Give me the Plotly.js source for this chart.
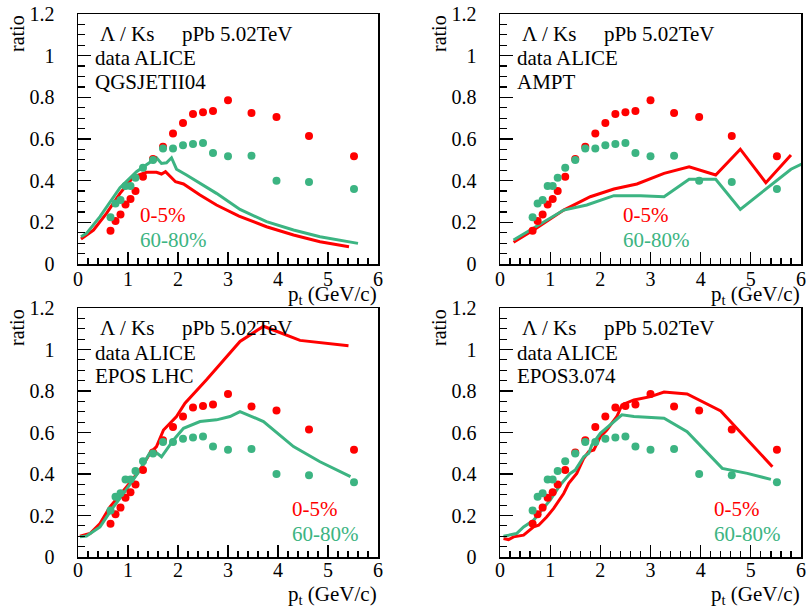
<!DOCTYPE html>
<html>
<head>
<meta charset="utf-8">
<script src="https://cdn.plot.ly/plotly-3.0.1.min.js"></script>
<style>
  html, body { margin: 0; padding: 0; background: #ffffff; }
  #plot { width: 808px; height: 608px; }
</style>
</head>
<body>
<div id="plot"></div>
<script>
// ALICE Lambda/K0s ratio, p-Pb 5.02 TeV (same data in every panel)
const ptData = [0.65, 0.75, 0.85, 0.95, 1.05, 1.15, 1.3, 1.5, 1.7, 1.9, 2.1, 2.3, 2.5, 2.7, 3.0, 3.47, 3.97, 4.62, 5.52];
const dataCentral = [0.160, 0.206, 0.238, 0.286, 0.312, 0.350, 0.419, 0.504, 0.563, 0.627, 0.677, 0.720, 0.728, 0.735, 0.786, 0.725, 0.706, 0.615, 0.517];
const dataPeripheral = [0.224, 0.290, 0.307, 0.374, 0.374, 0.414, 0.462, 0.499, 0.554, 0.554, 0.570, 0.576, 0.581, 0.533, 0.517, 0.520, 0.400, 0.394, 0.360];

// QGSJETII04
const qgsCentralPt = [0.06, 0.31, 0.57, 0.84, 1.11, 1.37, 1.57, 1.67, 1.75, 1.95, 2.11, 2.44, 2.77, 3.22, 3.77, 4.31, 4.84, 5.42];
const qgsCentral = [0.120, 0.163, 0.243, 0.339, 0.419, 0.440, 0.440, 0.432, 0.443, 0.395, 0.384, 0.331, 0.283, 0.230, 0.179, 0.139, 0.107, 0.083];
const qgsPeripheralPt = [0.06, 0.17, 0.44, 0.84, 1.17, 1.51, 1.57, 1.67, 1.77, 1.87, 1.97, 2.17, 2.44, 2.77, 3.24, 3.77, 4.31, 4.84, 5.6];
const qgsPeripheral = [0.131, 0.147, 0.227, 0.366, 0.443, 0.503, 0.510, 0.483, 0.486, 0.510, 0.455, 0.427, 0.387, 0.339, 0.262, 0.203, 0.163, 0.131, 0.099];

// AMPT
const amptCentralPt = [0.27, 0.67, 1.27, 1.8, 2.27, 2.73, 3.27, 3.77, 4.3, 4.79, 5.3, 5.8];
const amptCentral = [0.104, 0.163, 0.259, 0.323, 0.360, 0.384, 0.435, 0.467, 0.427, 0.551, 0.390, 0.523];
const amptPeripheralPt = [0.27, 0.67, 1.27, 1.73, 2.27, 2.8, 3.27, 3.77, 4.3, 4.79, 5.3, 5.8, 6.1];
const amptPeripheral = [0.115, 0.171, 0.259, 0.283, 0.328, 0.328, 0.323, 0.407, 0.407, 0.262, 0.358, 0.455, 0.490];

// EPOS LHC
const eposLhcCentralPt = [0.04, 0.24, 0.44, 0.64, 0.97, 1.24, 1.44, 1.57, 1.71, 1.84, 1.97, 2.14, 2.57, 3.24, 3.71, 3.97, 4.44, 5.41];
const eposLhcCentral = [0.100, 0.113, 0.161, 0.242, 0.338, 0.419, 0.500, 0.532, 0.612, 0.645, 0.677, 0.741, 0.854, 1.039, 1.112, 1.088, 1.044, 1.018];
const eposLhcPeripheralPt = [0.04, 0.17, 0.44, 0.71, 0.91, 1.11, 1.24, 1.44, 1.54, 1.67, 1.77, 1.91, 2.11, 2.44, 2.77, 3.04, 3.24, 3.71, 4.31, 4.84, 5.45];
const eposLhcPeripheral = [0.097, 0.101, 0.145, 0.242, 0.306, 0.371, 0.419, 0.503, 0.508, 0.483, 0.516, 0.564, 0.620, 0.653, 0.661, 0.677, 0.701, 0.653, 0.532, 0.459, 0.387];

// EPOS3.074
const epos3CentralPt = [0.07, 0.17, 0.27, 0.47, 0.67, 0.77, 0.93, 1.07, 1.27, 1.37, 1.53, 1.67, 1.77, 1.87, 2.0, 2.13, 2.33, 2.43, 2.67, 3.0, 3.27, 3.73, 4.4, 4.93, 5.43];
const epos3Central = [0.089, 0.084, 0.097, 0.105, 0.145, 0.153, 0.193, 0.234, 0.306, 0.355, 0.403, 0.476, 0.508, 0.516, 0.580, 0.612, 0.677, 0.733, 0.757, 0.773, 0.795, 0.786, 0.704, 0.564, 0.435];
const epos3PeripheralPt = [0.07, 0.2, 0.33, 0.47, 0.67, 0.83, 1.0, 1.2, 1.4, 1.5, 1.67, 1.77, 1.83, 2.0, 2.2, 2.43, 2.67, 3.27, 3.73, 4.43, 4.93, 5.4];
const epos3Peripheral = [0.100, 0.108, 0.113, 0.145, 0.177, 0.226, 0.274, 0.347, 0.403, 0.419, 0.483, 0.500, 0.540, 0.596, 0.637, 0.685, 0.677, 0.669, 0.604, 0.427, 0.403, 0.374];

const modelNames = ["QGSJETII04", "AMPT", "EPOS LHC", "EPOS3.074"];
const centralityLabels = ["0-5%", "60-80%"];
const xTitle = "p<sub>t</sub> (GeV/c)";
const yTitle = "ratio";
const headerLeft = "Λ / Ks";
const headerRight = "pPb 5.02TeV";
const dataLabel = "data ALICE";

const models = [
  [qgsCentralPt, qgsCentral, qgsPeripheralPt, qgsPeripheral],
  [amptCentralPt, amptCentral, amptPeripheralPt, amptPeripheral],
  [eposLhcCentralPt, eposLhcCentral, eposLhcPeripheralPt, eposLhcPeripheral],
  [epos3CentralPt, epos3Central, epos3PeripheralPt, epos3Peripheral]
];

const RED = "#ff0000";
const GREEN = "#3cb482";
const SERIF = '"Liberation Serif"';
const W = 808, H = 608;
const px = v => v / W;
const py = v => 1 - v / H;

// pad frames in pixels: left, right, top, bottom
const frames = [
  { l: 78, r: 378, t: 14, b: 264, lab: 60 },
  { l: 500, r: 801, t: 14, b: 264, lab: 121 },
  { l: 78, r: 378, t: 308, b: 557, lab: 212 },
  { l: 500, r: 801, t: 308, b: 557, lab: 212 }
];

const traces = [];
const layout = {
  width: W, height: H,
  margin: { l: 0, r: 0, t: 0, b: 0 },
  paper_bgcolor: "#ffffff",
  plot_bgcolor: "#ffffff",
  showlegend: false,
  font: { family: SERIF, color: "#000000" },
  annotations: []
};

function note(text, x, y, opts) {
  return Object.assign({
    text: text, xref: "paper", yref: "paper",
    x: px(x), y: py(y), xanchor: "left", yanchor: "middle",
    showarrow: false, font: { family: SERIF, size: 21, color: "#000000" }
  }, opts || {});
}

frames.forEach((f, i) => {
  const n = i === 0 ? "" : String(i + 1);
  const xa = "x" + n, ya = "y" + n;
  const top = i < 2;
  layout["xaxis" + n] = {
    domain: [px(f.l), px(f.r)], anchor: ya, range: [0, 6],
    showgrid: false, zeroline: false,
    showline: true, mirror: true, linecolor: "#000000", linewidth: 1.5,
    ticks: "inside", ticklen: 12, tickwidth: 1.2, tickcolor: "#000000",
    dtick: 1, tick0: 0,
    minor: { dtick: 0.2, ticks: "inside", ticklen: 6, tickwidth: 1.2, tickcolor: "#000000", showgrid: false },
    tickfont: { family: SERIF, size: 20, color: "#000000" },
    ticklabelstandoff: top ? -4 : -6,
    fixedrange: true
  };
  layout["yaxis" + n] = {
    domain: [py(f.b), py(f.t)], anchor: xa, range: [0, 1.2],
    showgrid: false, zeroline: false,
    showline: true, mirror: true, linecolor: "#000000", linewidth: 1.5,
    ticks: "inside", ticklen: 13, tickwidth: 1.2, tickcolor: "#000000",
    dtick: 0.2, tick0: 0,
    minor: { dtick: 0.05, ticks: "inside", ticklen: 7, tickwidth: 1.2, tickcolor: "#000000", showgrid: false },
    tickfont: { family: SERIF, size: 20, color: "#000000" },
    ticklabelstandoff: 18,
    fixedrange: true
  };

  const m = models[i];
  traces.push({ x: m[0], y: m[1], xaxis: xa, yaxis: ya, type: "scatter", mode: "lines",
    line: { color: RED, width: 3 }, hoverinfo: "skip" });
  traces.push({ x: m[2], y: m[3], xaxis: xa, yaxis: ya, type: "scatter", mode: "lines",
    line: { color: GREEN, width: 3 }, hoverinfo: "skip" });
  traces.push({ x: ptData, y: dataCentral, xaxis: xa, yaxis: ya, type: "scatter", mode: "markers",
    marker: { color: RED, size: 8, line: { width: 0 } }, cliponaxis: false, hoverinfo: "skip" });
  traces.push({ x: ptData, y: dataPeripheral, xaxis: xa, yaxis: ya, type: "scatter", mode: "markers",
    marker: { color: GREEN, size: 8, line: { width: 0 } }, cliponaxis: false, hoverinfo: "skip" });

  const A = layout.annotations;
  A.push(note(headerLeft, f.l + 20, f.t + 19.5));
  A.push(note(headerRight, f.l + 102, f.t + 19.5));
  A.push(note(dataLabel, f.l + 15, f.t + 44.5));
  A.push(note(modelNames[i], f.l + 15, f.t + 67.5));
  A.push(note(centralityLabels[0], f.l + f.lab, f.t + 201, { font: { family: SERIF, size: 21, color: RED } }));
  A.push(note(centralityLabels[1], f.l + f.lab, f.t + 225.5, { font: { family: SERIF, size: 21, color: GREEN } }));
  A.push(note(yTitle, f.l - 61, f.t + 20, { xanchor: "center", textangle: -90, font: { family: SERIF, size: 20, color: "#000000" } }));
  A.push(note(xTitle, f.r + 1, top ? 295 : 595, { xanchor: "right", font: { family: SERIF, size: 21, color: "#000000" } }));
});

Plotly.newPlot("plot", traces, layout, { staticPlot: true, displayModeBar: false });
</script>
</body>
</html>
